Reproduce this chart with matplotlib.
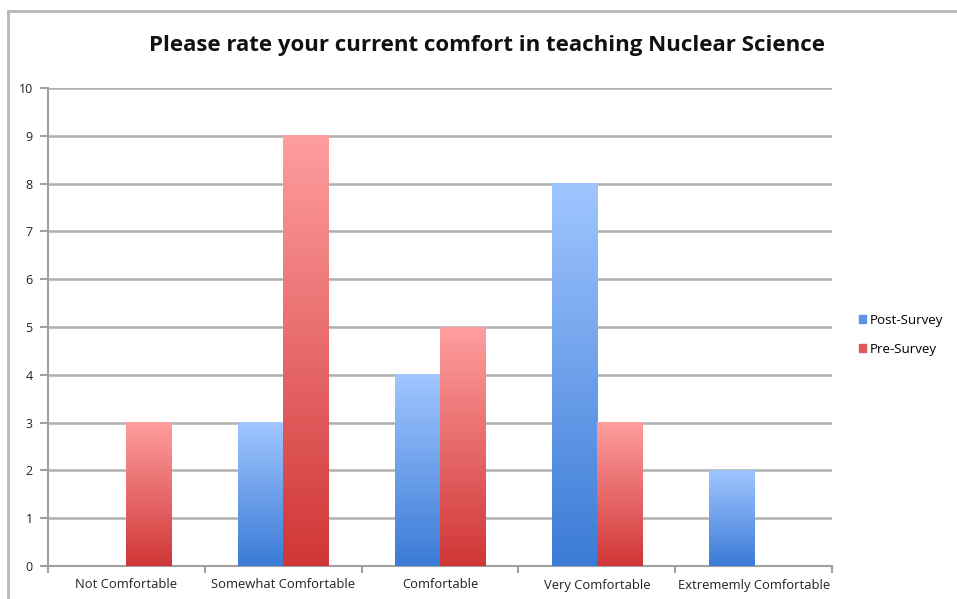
import numpy as np
import matplotlib
matplotlib.use("Agg")
import matplotlib.pyplot as plt
from matplotlib.colors import LinearSegmentedColormap
from matplotlib.patches import Rectangle, Patch

categories = ["Not Comfortable", "Somewhat Comfortable", "Comfortable",
              "Very Comfortable", "Extrememly Comfortable"]
post_survey = [0, 3, 4, 8, 2]
pre_survey = [3, 9, 5, 3, 0]

plt.rcParams['font.family'] = ['Open Sans', 'DejaVu Sans']

fig = plt.figure(figsize=(9.57, 5.99), dpi=100)
ax = fig.add_axes([48/957, 33/599, 784/957, 478/599])

# gradients: light at top, dark at bottom
blue_cmap = LinearSegmentedColormap.from_list("b", ["#3b7bd6", "#a0c6ff"])
red_cmap = LinearSegmentedColormap.from_list("r", ["#d03637", "#ff9e9e"])
grad = np.linspace(0, 1, 256).reshape(-1, 1)

x = np.arange(len(categories))
w = 0.287

def grad_bars(xs, vals, cmap, color):
    bars = ax.bar(xs, vals, w, color=color, zorder=2)
    for b in bars:
        h = b.get_height()
        if h <= 0:
            continue
        x0 = b.get_x()
        ax.imshow(grad, cmap=cmap, origin="lower", aspect="auto",
                  extent=[x0, x0 + b.get_width(), 0, h], zorder=3)

grad_bars(x - w/2, post_survey, blue_cmap, "#5b93e6")
grad_bars(x + w/2, pre_survey, red_cmap, "#e05a5a")

ax.set_xlim(-0.5, len(categories) - 0.5)
ax.set_ylim(0, 10)
ax.set_yticks(range(0, 11))
ax.yaxis.grid(True, color="#b0b0b0", linewidth=1.8)
ax.set_axisbelow(True)

ax.set_xticks(x)
ax.set_xticklabels(categories, fontsize=9.4, color="#222222")
ax.set_xticks(np.arange(-0.5, len(categories)), minor=True)
ax.tick_params(axis="x", which="major", length=0, pad=9)
ax.tick_params(axis="x", which="minor", length=5, color="#a0a0a0", width=1.5)
ax.tick_params(axis="y", length=6, color="#a0a0a0", width=1.5,
               labelsize=9, labelcolor="#222222", pad=5)

for s in ["top", "right"]:
    ax.spines[s].set_visible(False)
for s in ["left", "bottom"]:
    ax.spines[s].set_color("#a0a0a0")
    ax.spines[s].set_linewidth(1.5)

fig.text(487/957, 1 - 46/599, "Please rate your current comfort in teaching Nuclear Science",
         ha="center", va="center", fontsize=16, fontweight="bold", color="#111111")

handles = [Patch(color="#5b93e6", label="Post-Survey"),
           Patch(color="#e05a5a", label="Pre-Survey")]
fig.legend(handles=handles, loc="center left", bbox_to_anchor=(847/957, 1 - 335/599),
           frameon=False, fontsize=9.6, handlelength=0.55, handleheight=0.55,
           handletextpad=0.25, labelspacing=1.2)

# outer chart border
fig.patches.append(Rectangle((8/957, -0.05), 1.1, 1 - 11/599 + 0.05,
                             transform=fig.transFigure, fill=False,
                             edgecolor="#b8b8b8", linewidth=2))

fig.savefig("out.png", dpi=100)
